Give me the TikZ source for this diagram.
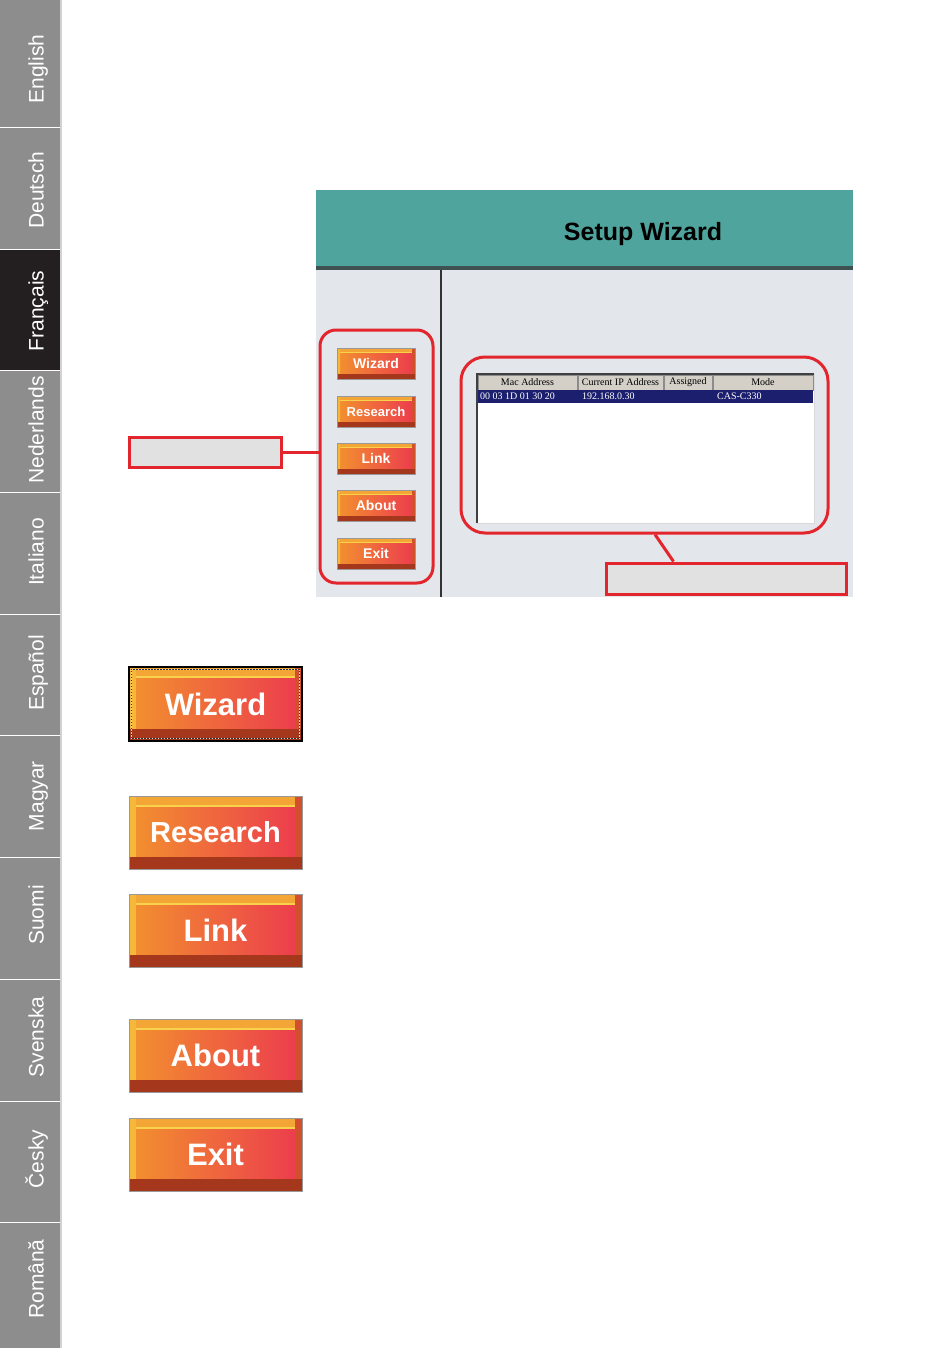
\documentclass[tikz,border=0pt]{standalone}
\usepackage{fontspec}
\setmainfont{Liberation Sans}
\newfontfamily\listfont{Liberation Serif}
\usetikzlibrary{positioning,calc}
\definecolor{tabgray}{HTML}{8D8D8D}
\definecolor{tabdark}{HTML}{231F20}
\definecolor{headteal}{HTML}{4FA59E}
\definecolor{headshade}{HTML}{3E5351}
\definecolor{shotbg}{HTML}{E3E6EA}
\definecolor{callred}{HTML}{E3262E}
\definecolor{taggray}{HTML}{E1E1E1}
\definecolor{rownavy}{HTML}{1C1F6E}
\definecolor{colhead}{HTML}{D4D0C8}
\definecolor{btnorange}{HTML}{F2922E}
\definecolor{btnred}{HTML}{EC3A4E}
\definecolor{btntop}{HTML}{F3A536}
\definecolor{btnshine}{HTML}{F8D24A}
\definecolor{btnlow}{HTML}{A5381C}
\definecolor{btnleft}{HTML}{F5B83A}
\definecolor{btnright}{HTML}{D2502C}
\begin{document}
\begin{tikzpicture}[x=1pt,y=-1pt]
	\colorlet{tab text}{white}
	\tikzset{tab/.style={rotate=90, anchor=base, inner sep=0, text=tab text,
			font=\fontsize{21}{25}\selectfont},
		btn/.style={inner sep=0, text=white, left color=btnorange, right color=btnred,
			draw=black!40, line width=0.8,
			path picture={
				\fill[btntop] (path picture bounding box.north west) rectangle
				($(path picture bounding box.north east)!0.13!(path picture bounding box.south east)$);
				\fill[btnshine] ($(path picture bounding box.north west)!0.12!(path picture bounding box.south west)$) rectangle
				($(path picture bounding box.north east)!0.15!(path picture bounding box.south east)$);
				\fill[btnleft] (path picture bounding box.north west) rectangle
				($(path picture bounding box.south west)!0.04!(path picture bounding box.south east)$);
				\fill[btnright] ($(path picture bounding box.north east)!0.04!(path picture bounding box.north west)$)
				rectangle (path picture bounding box.south east);
				\fill[btnlow] ($(path picture bounding box.south west)!0.16!(path picture bounding box.north west)$)
				rectangle (path picture bounding box.south east);
			}},
		smallbtn/.style={btn, minimum width=78, minimum height=31,
			font=\bfseries\fontsize{14}{16}\selectfont},
		bigbtn/.style={btn, minimum width=173, minimum height=73,
			font=\bfseries\fontsize{31}{36}\selectfont},
		callout/.style={draw=callred, line width=3},
		tagbox/.style={callout, fill=taggray, inner sep=0},
		link/.style={draw=callred, line width=3},
		colcell/.style={fill=colhead, draw=black!45, line width=0.6},
		listtext/.style={inner sep=0, font=\listfont\fontsize{10}{12}\selectfont}}
	\useasboundingbox (0,0) rectangle (950,1348);
	% language tabs
	\fill[tabgray] (0,0) rectangle (60,1348);
	\fill[tabdark] (0,249) rectangle (60,370.7);
	\draw[gray!35, line width=1.5] (61,0) -- (61,1348);
	\draw[white, line width=0.8] (0,127.3) -- (60,127.3) (0,249) -- (60,249)
	(0,370.7) -- (60,370.7) (0,492.4) -- (60,492.4) (0,614.1) -- (60,614.1)
	(0,735.8) -- (60,735.8) (0,857.5) -- (60,857.5) (0,979.2) -- (60,979.2)
	(0,1100.9) -- (60,1100.9) (0,1222.6) -- (60,1222.6);
	\node[tab] (en) at (43.5,69) {English};
	\node[tab] (de) at (43.5,190) {Deutsch};
	\node[tab] (fr) at (43.5,311) {Français};
	\node[tab] (nl) at (43.5,430) {Nederlands};
	\node[tab] (it) at (43.5,552) {Italiano};
	\node[tab] (es) at (43.5,673) {Español};
	\node[tab] (hu) at (43.5,796) {Magyar};
	\node[tab] (fi) at (43.5,915) {Suomi};
	\node[tab] (sv) at (43.5,1037) {Svenska};
	\node[tab] (cz) at (43.5,1159) {Česky};
	\node[tab] (ro) at (43.5,1279) {Română};
	% setup wizard window
	\fill[shotbg] (316,190) rectangle (853,597);
	\fill[headteal] (316,190) rectangle (853,266);
	\fill[headshade] (316,266) rectangle (853,270);
	\draw[black!80, line width=2.5] (441,270) -- (441,597);
	\node[font=\bfseries\fontsize{25}{30}\selectfont] (title) at (643,234) {Setup Wizard};
	\node[smallbtn] (swizard) at (376,363.5) {Wizard};
	\node[smallbtn, font=\bfseries\fontsize{13}{15}\selectfont] (sresearch) at (376,411.5) {Research};
	\node[smallbtn] (slink) at (376,458.5) {Link};
	\node[smallbtn] (sabout) at (376,505.5) {About};
	\node[smallbtn] (sexit) at (376,553.5) {Exit};
	% device list
	\fill[white] (477,374) rectangle (814,523);
	\draw[black!75, line width=1.2] (477,523) -- (477,374) -- (814,374);
	\draw[black!15, line width=1] (814,374) -- (814,523) -- (477,523);
	\filldraw[colcell] (478,375) rectangle (577,390);
	\filldraw[colcell] (578,375) rectangle (663,390);
	\filldraw[colcell] (664,375) rectangle (712,390);
	\filldraw[colcell] (713,375) rectangle (813,390);
	\fill[rownavy] (478,390) rectangle (813,403);
	\node[listtext] (hmac) at (527.5,382.5) {Mac Address};
	\node[listtext] (hip) at (620.5,382.5) {Current IP Address};
	\node[listtext] (hassign) at (688,382.5) {Assigned};
	\node[listtext] (hmode) at (763,382.5) {Mode};
	\node[listtext, anchor=west, text=white] (rmac) at (480,396.5) {00 03 1D 01 30 20};
	\node[listtext, anchor=west, text=white] (rip) at (582,396.5) {192.168.0.30};
	\node[listtext, anchor=west, text=white] (rmode) at (717,396.5) {CAS-C330};
	% callouts
	\node[callout, rounded corners=16, minimum width=113, minimum height=253] (btnframe) at (376.5,456.5) {};
	\node[callout, rounded corners=24, minimum width=367, minimum height=176] (listframe) at (644.5,445) {};
	\node[tagbox, minimum width=152, minimum height=30] (lefttag) at (205,452) {};
	\node[tagbox, minimum width=240, minimum height=31] (listtag) at (726,578.5) {};
	\draw[link] (lefttag.east) -- (lefttag.east -| btnframe.west);
	\draw[link] ([xshift=10.5pt]listframe.south) -- ([xshift=69pt]listtag.north west);
	% large buttons
	\node[bigbtn, draw=black, line width=1.5, minimum height=74] (bwizard) at (215.5,704) {Wizard};
	\draw[white!85!black, line width=1.2, dash pattern=on 1.5pt off 1.5pt] ([shift={(3pt,-3pt)}]bwizard.north west) rectangle
	([shift={(-3pt,3pt)}]bwizard.south east);
	\draw[black!80, line width=1.2, dash pattern=on 1.5pt off 1.5pt, dash phase=1.5pt] ([shift={(3pt,-3pt)}]bwizard.north west) rectangle
	([shift={(-3pt,3pt)}]bwizard.south east);
	\node[bigbtn, font=\bfseries\fontsize{29}{34}\selectfont] (bresearch) at (215.5,832.5) {Research};
	\node[bigbtn] (blink) at (215.5,930.5) {Link};
	\node[bigbtn] (babout) at (215.5,1055.5) {About};
	\node[bigbtn] (bexit) at (215.5,1154.5) {Exit};
\end{tikzpicture}
\end{document}
